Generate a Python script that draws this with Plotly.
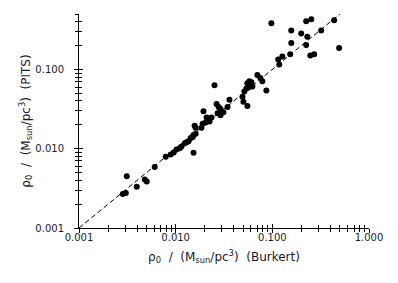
import math
import plotly.graph_objects as go

burkert = [0.00284, 0.00305, 0.00312, 0.00396, 0.00479, 0.00502, 0.00607, 0.00789,
           0.00888, 0.00954, 0.0102, 0.0110, 0.0115, 0.0124, 0.0130, 0.0136,
           0.0143, 0.0150, 0.0153, 0.0161, 0.0153, 0.0161, 0.0157, 0.0185,
           0.0190, 0.0204, 0.0209, 0.0224, 0.0235, 0.0224, 0.0194, 0.0252,
           0.0265, 0.0278, 0.0291, 0.0271, 0.0291, 0.0312, 0.0344, 0.0360,
           0.0491, 0.0514, 0.0539, 0.0552, 0.0579, 0.0552, 0.0502, 0.0622,
           0.0700, 0.0752, 0.0789, 0.0867, 0.0977, 0.115, 0.118, 0.127,
           0.153, 0.157, 0.157, 0.199, 0.224, 0.253, 0.230, 0.224,
           0.247, 0.271, 0.320, 0.436, 0.491, 0.0608, 0.0566]
pits = [0.00269, 0.00277, 0.00449, 0.00332, 0.00410, 0.00386, 0.00588, 0.00794,
        0.00843, 0.00895, 0.00979, 0.0101, 0.0107, 0.0117, 0.0121, 0.0124,
        0.0136, 0.0140, 0.0149, 0.0154, 0.0089, 0.0184, 0.0195, 0.0184,
        0.0207, 0.0214, 0.0248, 0.0241, 0.0248, 0.0220, 0.0297, 0.0630,
        0.0367, 0.0335, 0.0316, 0.0280, 0.0264, 0.0288, 0.0335, 0.0414,
        0.0453, 0.0526, 0.0575, 0.0669, 0.0710, 0.0345, 0.0390, 0.0611,
        0.0851, 0.0777, 0.0710, 0.0542, 0.382, 0.133, 0.115, 0.146,
        0.155, 0.216, 0.309, 0.283, 0.405, 0.430, 0.258, 0.203,
        0.150, 0.155, 0.309, 0.418, 0.186, 0.0689, 0.0593]

identity_line = [0.001, 0.5]

x_tickvals = [0.001, 0.01, 0.1, 1.0]
x_ticktext = ["0.001", "0.010", "0.100", "1.000"]
y_tickvals = [0.001, 0.01, 0.1]
y_ticktext = ["0.001", "0.010", "0.100"]

x_range = [0.001, 1.0]
y_range = [0.001, 0.5]

xr = [math.log10(v) for v in x_range]
yr = [math.log10(v) for v in y_range]

FONT = "DejaVu Sans"
TXT = "#1a1a2e"

fig = go.Figure()
fig.add_trace(go.Scatter(x=identity_line, y=identity_line, mode="lines",
                         line=dict(color="black", width=1, dash="5px,3px"),
                         hoverinfo="skip", showlegend=False))
fig.add_trace(go.Scatter(x=burkert, y=pits, mode="markers",
                         marker=dict(color="black", size=6, line=dict(width=0)),
                         showlegend=False))
# invisible trace anchoring the overlay axes that draw the inner half of the ticks
fig.add_trace(go.Scatter(x=[0.01], y=[0.01], mode="markers", xaxis="x2", yaxis="y2",
                         marker=dict(opacity=0), hoverinfo="skip", showlegend=False))

common = dict(type="log", showgrid=False, zeroline=False, showline=True,
              linecolor="black", linewidth=1, ticklen=4, tickwidth=1, tickcolor="black",
              tickfont=dict(family=FONT, size=10, color=TXT))
minor = dict(ticklen=3, tickwidth=1, tickcolor="black", dtick="D1", showgrid=False)

fig.update_layout(
    width=390, height=275,
    margin=dict(l=71, r=29, t=6, b=55),
    paper_bgcolor="white", plot_bgcolor="white",
    showlegend=False,
    xaxis=dict(**common, range=xr, ticks="outside", tickvals=x_tickvals, ticktext=x_ticktext,
               ticklabelstandoff=-4,
               minor=dict(**minor, ticks="outside"),
               title=dict(text="ρ<sub>0</sub>  /  (M<sub>sun</sub>/pc<sup>3</sup>)  (Burkert)",
                          font=dict(family=FONT, size=12, color=TXT), standoff=10)),
    yaxis=dict(**common, range=yr, ticks="outside", tickvals=y_tickvals, ticktext=y_ticktext,
               ticklabelstandoff=8,
               minor=dict(**minor, ticks="outside"),
               title=dict(text="ρ<sub>0</sub>  /  (M<sub>sun</sub>/pc<sup>3</sup>)  (PITS)",
                          font=dict(family=FONT, size=12, color=TXT), standoff=2)),
    xaxis2=dict(**common, range=xr, overlaying="x", anchor="y2", side="bottom",
                ticks="inside", tickvals=x_tickvals, showticklabels=False,
                minor=dict(**minor, ticks="inside")),
    yaxis2=dict(**common, range=yr, overlaying="y", anchor="x2", side="left",
                ticks="inside", tickvals=y_tickvals, showticklabels=False,
                minor=dict(**minor, ticks="inside")),
)

fig.write_html("out.html")
